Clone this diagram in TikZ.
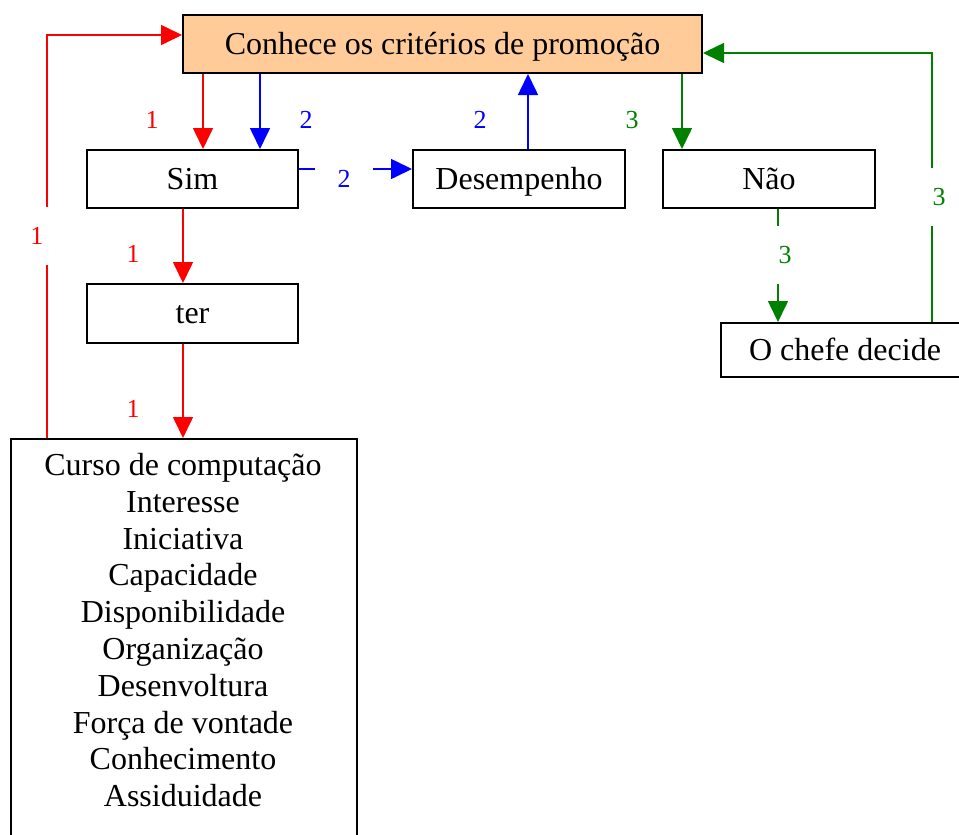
\documentclass[tikz,border=0pt]{standalone}
\usepackage{fontspec}
\setmainfont{Liberation Serif}
\usetikzlibrary{arrows.meta}
\definecolor{peach}{HTML}{FFCC99}
\definecolor{linkred}{HTML}{FF0000}
\definecolor{linkblue}{HTML}{0000FF}
\definecolor{linkgreen}{HTML}{008000}
\tikzset{
  box/.style={draw=black, line width=2pt, fill=white, inner sep=0pt,
    text height=20pt, text depth=0pt,
    font=\fontsize{32}{37}\selectfont},
  tag/.style={fill=white, minimum width=58pt, minimum height=58pt, inner sep=0pt,
    font=\fontsize{26}{30}\selectfont},
  link/.style={line width=1.6pt, -{Triangle[length=21pt, width=20pt]}},
}
\begin{document}
\begin{tikzpicture}[x=1pt, y=-1pt]
\useasboundingbox (0,0) rectangle (959,835);

% boxes
\node[box, fill=peach, minimum width=519pt, minimum height=58pt] (top) at (442.5,44) {Conhece os critérios de promoção};
\node[box, minimum width=211pt, minimum height=58pt] (sim) at (192.5,179) {Sim};
\node[box, minimum width=212pt, minimum height=58pt] (des) at (519,179) {Desempenho};
\node[box, minimum width=212pt, minimum height=58pt] (nao) at (769,179) {Não};
\node[box, minimum width=211pt, minimum height=59pt] (ter) at (192.5,313.5) {ter};
\node[box, minimum width=248pt, minimum height=54pt] (chefe) at (845,350) {O chefe decide};
\node[box, anchor=north west, minimum width=346pt, minimum height=430pt] (list) at (10,438) {};
\node[align=center, anchor=north, inner sep=0pt, font=\fontsize{32}{36.8}\selectfont] (listtxt) at (183,453)
  {Curso de computação\\Interesse\\Iniciativa\\Capacidade\\Disponibilidade\\Organização\\Desenvoltura\\Força de vontade\\Conhecimento\\Assiduidade};

% connector columns and bends
\coordinate (xr) at (203,0);
\coordinate (xb) at (260,0);
\coordinate (xd) at (528,0);
\coordinate (xg) at (682,0);
\coordinate (xn) at (778,0);
\coordinate (xs) at (183,0);
\coordinate (xl) at (47,0);
\coordinate (xc) at (932,0);
\coordinate (yh) at (0,169);
\coordinate (redbend) at (47,35);
\coordinate (greenbend) at (932,53);

% path 1 (red)
\draw[link, linkred] (top.south -| xr) -- (sim.north -| xr);
\draw[link, linkred] (sim.south -| xs) -- (ter.north -| xs);
\draw[link, linkred] (ter.south -| xs) -- (list.north -| xs);
\draw[link, linkred] (list.north -| xl) -- (redbend) -- (top.west |- redbend);

% path 2 (blue)
\draw[link, linkblue] (top.south -| xb) -- (sim.north -| xb);
\draw[link, linkblue] (sim.east |- yh) -- (des.west |- yh);
\draw[link, linkblue] (des.north -| xd) -- (top.south -| xd);

% path 3 (green)
\draw[link, linkgreen] (top.south -| xg) -- (nao.north -| xg);
\draw[link, linkgreen] (nao.south -| xn) -- (chefe.north -| xn);
\draw[link, linkgreen] (chefe.north -| xc) -- (greenbend) -- (top.east |- greenbend);

% step numbers on white patches
\node[tag, text=linkred] (t1a) at (152,120) {1};
\node[tag, text=linkred] (t1b) at (133,254) {1};
\node[tag, text=linkred] (t1c) at (133,409) {1};
\node[tag, text=linkred] (t1d) at (37,236) {1};
\node[tag, text=linkblue] (t2a) at (306,120) {2};
\node[tag, text=linkblue] (t2b) at (344,179) {2};
\node[tag, text=linkblue] (t2c) at (480,120) {2};
\node[tag, text=linkgreen] (t3a) at (632,120) {3};
\node[tag, text=linkgreen] (t3b) at (785,255) {3};
\node[tag, text=linkgreen] (t3c) at (939,197) {3};
\end{tikzpicture}
\end{document}
